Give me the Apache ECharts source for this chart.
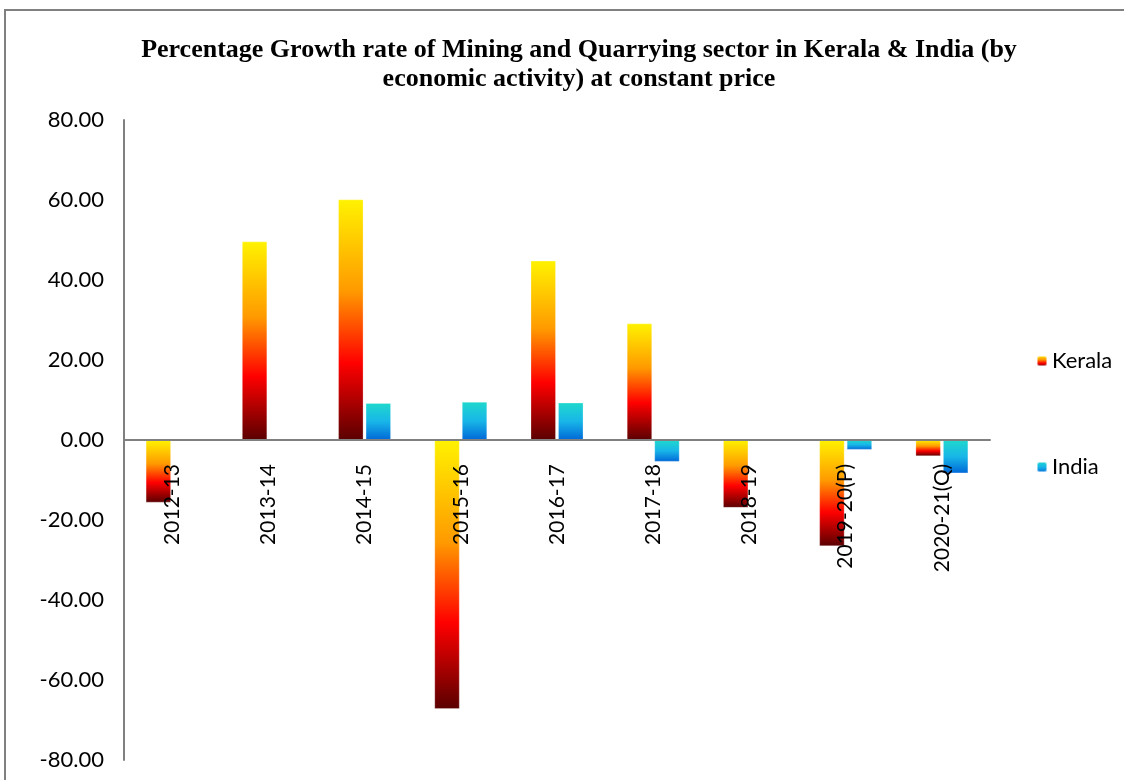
<!DOCTYPE html>
<html>
<head>
<meta charset="utf-8">
<script src="https://cdn.jsdelivr.net/npm/echarts@6/dist/echarts.min.js"></script>
<style>
  html, body { margin: 0; padding: 0; background: #fff; }
  #chart { width: 1124px; height: 780px; }
</style>
</head>
<body>
<div id="chart"></div>
<script>
// chart data
var years = ['2012-13', '2013-14', '2014-15', '2015-16', '2016-17', '2017-18', '2018-19', '2019-20(P)', '2020-21(Q)'];
var kerala = [-15.6, 49.6, 60.1, -67.2, 44.8, 29.1, -16.9, -26.5, -4.0];
var india = [null, null, 9.2, 9.5, 9.3, -5.4, null, -2.4, -8.3];
var yTicks = { min: -80, max: 80, step: 20 };

var chart = echarts.init(document.getElementById('chart'));

var keralaFill = new echarts.graphic.LinearGradient(0, 0, 0, 1, [
  { offset: 0, color: '#fff200' },
  { offset: 0.38, color: '#ff9a00' },
  { offset: 0.68, color: '#ff0000' },
  { offset: 1, color: '#5a0000' }
]);
var indiaFill = new echarts.graphic.LinearGradient(0, 0, 0, 1, [
  { offset: 0, color: '#1fd8cc' },
  { offset: 0.5, color: '#18b6e8' },
  { offset: 1, color: '#0068d8' }
]);

chart.setOption({
  animation: false,
  title: {
    text: 'Percentage Growth rate of Mining and Quarrying sector in Kerala & India (by\neconomic activity) at constant price',
    left: 574,
    textAlign: 'center',
    top: 31,
    textStyle: {
      fontFamily: 'Liberation Serif',
      fontWeight: 'bold',
      fontSize: 26,
      lineHeight: 29,
      color: '#000'
    }
  },
  graphic: [{
    type: 'rect',
    shape: { x: 5, y: 10, width: 1140, height: 800 },
    style: { fill: 'none', stroke: '#808080', lineWidth: 2 },
    silent: true
  }],
  legend: {
    orient: 'vertical',
    left: 1031,
    top: 345,
    itemWidth: 10,
    itemHeight: 10,
    itemGap: 84,
    textStyle: { fontFamily: 'Lato', fontSize: 22, color: '#000' },
    data: ['Kerala', 'India']
  },
  grid: {
    left: 124,
    right: 134,
    top: 120,
    bottom: 20,
    outerBoundsMode: 'none',
    containLabel: false
  },
  xAxis: {
    type: 'category',
    data: years,
    z: 3,
    axisLine: { onZero: true, lineStyle: { color: '#808080', width: 2 } },
    axisTick: { show: false },
    axisLabel: {
      interval: 0,
      rotate: 90,
      // labels sit just under the zero line, not at the grid bottom
      margin: -296,
      fontFamily: 'Lato',
      fontSize: 21,
      color: '#000'
    }
  },
  yAxis: {
    type: 'value',
    min: yTicks.min,
    max: yTicks.max,
    interval: yTicks.step,
    axisLine: { show: true, lineStyle: { color: '#808080', width: 2 } },
    axisTick: { show: false },
    splitLine: { show: false },
    axisLabel: {
      margin: 20,
      fontFamily: 'Lato',
      fontSize: 22,
      color: '#000',
      formatter: function (v) { return v.toFixed(2); }
    }
  },
  series: [
    {
      name: 'Kerala',
      type: 'bar',
      data: kerala,
      barWidth: 25,
      barGap: '10%',
      itemStyle: { color: keralaFill, borderColor: 'rgba(255,255,255,0.5)', borderWidth: 0.5 }
    },
    {
      name: 'India',
      type: 'bar',
      data: india,
      barWidth: 25,
      itemStyle: { color: indiaFill, borderColor: 'rgba(255,255,255,0.5)', borderWidth: 0.5 }
    }
  ]
});
</script>
</body>
</html>
